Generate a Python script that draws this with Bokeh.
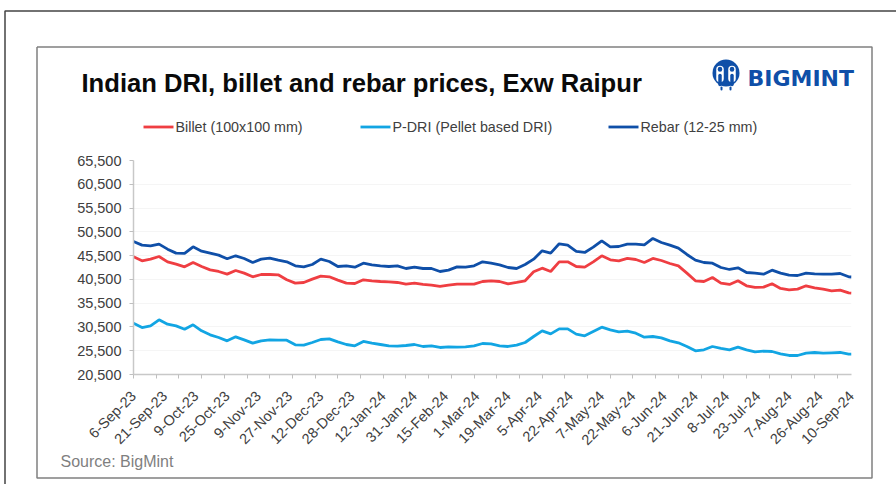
import math
from bokeh.core.properties import value
from bokeh.embed import file_html
from bokeh.resources import INLINE
from bokeh.plotting import figure
from bokeh.models import (Range1d, FixedTicker, NumeralTickFormatter)

tick_labels = ["6-Sep-23","21-Sep-23","9-Oct-23","25-Oct-23","9-Nov-23","27-Nov-23","12-Dec-23","28-Dec-23",
               "12-Jan-24","31-Jan-24","15-Feb-24","1-Mar-24","19-Mar-24","5-Apr-24","22-Apr-24","7-May-24",
               "22-May-24","6-Jun-24","21-Jun-24","8-Jul-24","23-Jul-24","7-Aug-24","26-Aug-24","10-Sep-24"]
y_ticks = [20500,25500,30500,35500,40500,45500,50500,55500,60500,65500]

session = list(range(0, 255, 3)) + [253]

rebar = [48470,47700,47560,47910,46860,46020,45950,47350,46440,46020,45600,44830,45460,44900,44050,44750,44970,44540,44190,43350,
         43140,43630,44750,44260,43210,43350,43070,43910,43560,43350,43210,43350,42790,43070,42790,42790,42160,42440,43140,43070,
         43350,44190,43910,43560,43000,42790,43630,44750,46510,46020,47980,47700,46370,46160,47280,48610,47350,47420,47910,47910,
         47770,49100,48260,47700,47070,45740,44540,44050,43910,43000,42580,42930,41950,41810,41600,42440,41810,41390,41320,41810,
         41670,41600,41600,41740,41040,41000]
billet = [45250,44400,44750,45320,44190,43700,43140,44050,43210,42510,42160,41600,42370,41810,41040,41530,41530,41460,40410,39710,
          39850,40550,41180,41040,40340,39710,39640,40410,40200,40060,39990,39850,39500,39710,39430,39290,39010,39290,39500,39500,
          39500,40060,40200,40060,39570,39850,40200,42090,42860,42160,44190,44190,43210,43070,44190,45460,44610,44400,44900,44680,
          44050,44900,44470,43840,43350,41810,40200,40060,40900,39710,39430,40200,39150,38800,38870,39570,38590,38310,38450,39150,
          38730,38450,38100,38240,37670,37600]
pdri = [31300,30380,30730,32000,31090,30730,30030,30950,29680,28840,28280,27580,28420,27790,27090,27580,27790,27720,27720,26740,
        26670,27230,27860,28000,27370,26810,26530,27440,27090,26810,26530,26460,26600,26810,26390,26530,26180,26320,26250,26320,
        26530,27020,26950,26530,26390,26670,27230,28490,29680,29050,30100,30100,28980,28630,29540,30450,29890,29470,29610,29190,
        28350,28490,28210,27580,27160,26390,25480,25690,26390,25970,25690,26250,25690,25270,25410,25340,24850,24500,24500,24990,
        25130,24990,25060,25130,24780,24800]
series_names = ["Billet (100x100 mm)", "P-DRI (Pellet based DRI)", "Rebar (12-25 mm)"]

RED, CYAN, NAVY = "#ef3e42", "#12a5e3", "#0f4fa8"
TXT = "#404040"

p = figure(width=896, height=484, output_backend="svg", toolbar_location=None,
           x_range=Range1d(0, 253), y_range=Range1d(20500, 65500),
           min_border_left=133, min_border_right=45, min_border_top=160, min_border_bottom=110,
           background_fill_color="white", border_fill_color="white")
p.margin = (0, 0, 0, 0)
p.outline_line_color = None
p.xgrid.visible = False
p.ygrid.ticker = FixedTicker(ticks=y_ticks)
p.ygrid.grid_line_color = "#f5f5f5"
p.ygrid.grid_line_width = 1

xa = p.xaxis[0]
xa.ticker = FixedTicker(ticks=[11*i for i in range(len(tick_labels))],
                        minor_ticks=list(range(0, 253, 8)))
xa.major_label_overrides = {11*i: s for i, s in enumerate(tick_labels)}
xa.major_label_orientation = math.pi/4
xa.major_label_text_font = "Liberation Sans"
xa.major_label_text_font_size = "14.5px"
xa.major_label_text_color = TXT
xa.major_tick_line_color = None
xa.minor_tick_in = 0
xa.minor_tick_out = 4
xa.minor_tick_line_color = "#bfbfbf"
xa.axis_line_color = "#c8c8c8"
xa.axis_line_width = 1.5
xa.major_label_standoff = 13

ya = p.yaxis[0]
ya.ticker = FixedTicker(ticks=y_ticks)
ya.formatter = NumeralTickFormatter(format="0,0")
ya.major_label_text_font = "Liberation Sans"
ya.major_label_text_font_size = "14.5px"
ya.major_label_text_color = TXT
ya.major_tick_in = 0
ya.major_tick_out = 4
ya.major_tick_line_color = "#bfbfbf"
ya.minor_tick_line_color = None
ya.axis_line_color = "#c8c8c8"
ya.axis_line_width = 1.5
ya.major_label_standoff = 8

p.line(session, billet, line_color=RED, line_width=2.8)
p.line(session, pdri, line_color=CYAN, line_width=2.8)
p.line(session, rebar, line_color=NAVY, line_width=2.8)

# page-pixel helper ranges for decoration
p.extra_x_ranges["px"] = Range1d(133, 851)
p.extra_y_ranges["px"] = Range1d(374, 160)
kw = dict(x_range_name="px", y_range_name="px", level="overlay")

def text_at(px, py, s, font, size, color, style="normal"):
    ax = min(max(px, 140), 845)
    ay = min(max(py, 165), 370)
    p.text([ax], [ay], text=[s], x_offset=px-ax, y_offset=py-ay,
           text_font=value(font), text_font_size=size, text_font_style=style, text_color=color,
           text_baseline="alphabetic", text_align="left", **kw)

# frames
p.line([896, 4.5, 4.5], [10.5, 10.5, 484], line_color="#444444", line_width=1.5, **kw)
p.line([36.5, 871.5, 871.5, 36.5, 36.5], [46.5, 46.5, 477.5, 477.5, 46.5], line_color="#808080", line_width=1.5, **kw)

# logo mark, from round-capped strokes
def stroke(xs, ys, w, color):
    p.line(xs, ys, line_width=w, line_color=color, line_cap="round", line_join="round", **kw)
stroke([725.5, 725.51], [72.5, 72.5], 27, NAVY)
stroke([719.5, 719.5], [69, 78], 7.5, "white")
stroke([731.5, 731.5], [69, 78], 7.5, "white")
stroke([719.5, 719.5], [68.5, 69], 4.5, NAVY)
stroke([731.5, 731.5], [68.5, 69], 4.5, NAVY)
stroke([719.5, 719.5], [75, 84], 3.5, NAVY)
stroke([731.5, 731.5], [75, 84], 3.5, NAVY)
stroke([721, 721], [87, 89], 2, NAVY)
stroke([730, 730], [87, 89], 2, NAVY)

# legend
for x0, name, col in zip([143, 360, 608], series_names, [RED, CYAN, NAVY]):
    p.line([x0, x0+30], [126.5, 126.5], line_color=col, line_width=2.8, **kw)
    text_at(x0+32, 126, name, "Liberation Sans", "14.3px", TXT)

text_at(81, 82, "Indian DRI, billet and rebar prices, Exw Raipur", "Liberation Sans", "25.6px", "#0a0a0a", "bold")
text_at(747, 78, "BIGMINT", "DejaVu Sans", "22px", NAVY, "bold")
text_at(60, 461, "Source: BigMint", "Liberation Sans", "16px", "#7f7f7f")

open("out.html", "w").write(file_html(p, INLINE))
